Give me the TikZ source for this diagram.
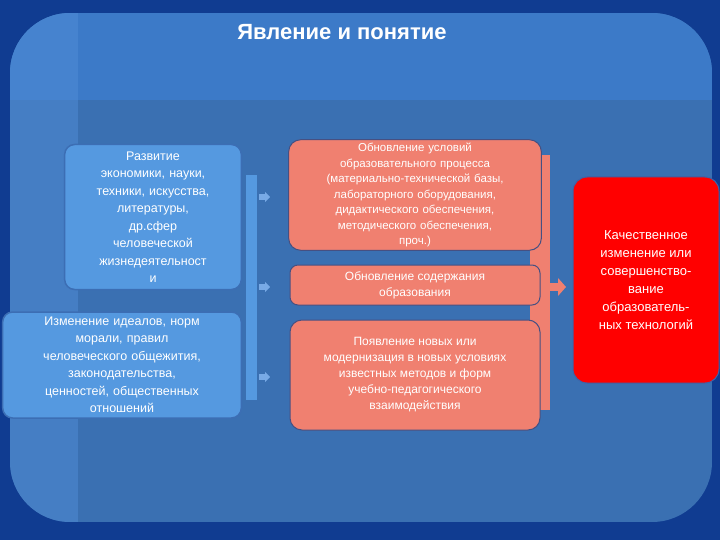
\documentclass[tikz,border=0pt]{standalone}
\usepackage{fontspec}
\setmainfont{Liberation Sans}
\definecolor{bgdark}{RGB}{16,60,145}
\definecolor{bgmain}{RGB}{58,112,178}
\definecolor{bgtop}{RGB}{60,122,200}
\definecolor{bgleft}{RGB}{80,140,215}
\definecolor{bluefill}{RGB}{85,153,224}
\definecolor{blueedge}{RGB}{60,110,180}
\definecolor{pinkfill}{RGB}{240,128,112}
\definecolor{pinkedge}{RGB}{70,80,130}
\definecolor{arrfill}{RGB}{120,170,230}
\definecolor{rededge}{RGB}{60,100,170}
\begin{document}
\begin{tikzpicture}[x=1pt,y=-1pt,
 txt/.style={text=white,font=\fontsize{12}{16}\selectfont,align=center},
 bluebox/.style={fill=bluefill,rounded corners=10pt,draw=blueedge,line width=1.5pt},
 pinkbox/.style={fill=pinkfill,rounded corners=12pt,draw=pinkedge,line width=1pt},
 bar/.style={fill=pinkfill},
 arr/.style={fill=arrfill}]
\useasboundingbox (0,0) rectangle (720,540);
\fill[bgdark] (0,0) rectangle (720,540);
\begin{scope}
\clip[rounded corners=60pt] (10,13) rectangle (712,522);
\fill[bgmain] (10,13) rectangle (712,522);
\fill[bgtop] (10,13) rectangle (712,100);
\fill[bgleft,opacity=0.5] (10,13) rectangle (78,522);
\end{scope}
\node[text=white,font=\bfseries\fontsize{22}{26}\selectfont] (title) at (342,32) {Явление и понятие};
% left bracket
\fill[bluefill] (246,175) rectangle (257,400);
\node[bluebox,minimum width=175pt,minimum height=145pt,text width=170pt,txt,font=\fontsize{12.5}{17.5}\selectfont] (b1) at (153,217) {Развитие\\экономики, науки,\\техники, искусства,\\литературы,\\др.сфер\\человеческой\\жизнедеятельност\\и};
\node[bluebox,minimum width=236pt,minimum height=106pt,text width=232pt,txt,font=\fontsize{12.5}{17.5}\selectfont] (b2) at (122,365) {Изменение идеалов, норм\\морали, правил\\человеческого общежития,\\законодательства,\\ценностей, общественных\\отношений};
\foreach \yy in {197,287,377}{\fill[arr] (259,\yy-3) rectangle (265,\yy+3);\fill[arr] (265,\yy-5) -- (270,\yy) -- (265,\yy+5) -- cycle;}
% right bracket
\fill[bar] (530,155) rectangle (550,410);
\fill[bar] (550,283) rectangle (558,291); \fill[bar] (558,278) -- (566,287) -- (558,296) -- cycle;
\node[pinkbox,minimum width=250pt,minimum height=108pt,txt,text width=246pt,font=\fontsize{11.5}{15.5}\selectfont] (p1) at (415,195) {Обновление условий\\образовательного процесса\\(материально-технической базы,\\лабораторного оборудования,\\дидактического обеспечения,\\методического обеспечения,\\проч.)};
\node[pinkbox,minimum width=250pt,minimum height=40pt,txt,rounded corners=8pt] (p2) at (415,285) {Обновление содержания\\образования};
\node[pinkbox,minimum width=250pt,minimum height=110pt,txt] (p3) at (415,375) {Появление новых или\\модернизация в новых условиях\\известных методов и форм\\учебно-педагогического\\взаимодействия};
\node[fill=red,draw=rededge,line width=1pt,rounded corners=14pt,minimum width=146pt,minimum height=206pt,txt,font=\fontsize{13}{18}\selectfont] (r) at (646,280) {Качественное\\изменение или\\совершенство-\\вание\\образователь-\\ных технологий};
\end{tikzpicture}
\end{document}
